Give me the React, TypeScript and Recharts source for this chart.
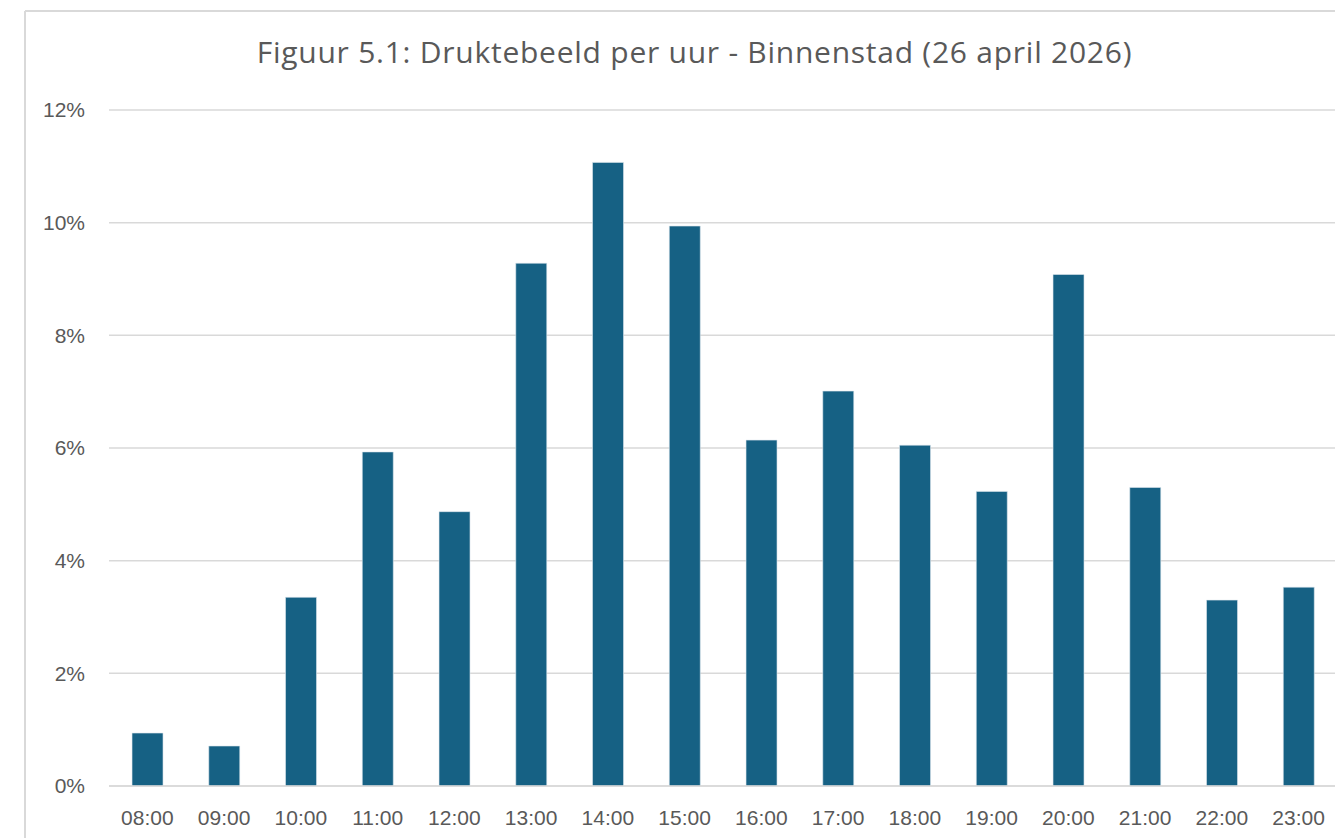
import React from 'react';
import { BarChart, Bar, XAxis, YAxis, CartesianGrid } from 'recharts';

const hours = ['08:00', '09:00', '10:00', '11:00', '12:00', '13:00', '14:00', '15:00', '16:00', '17:00', '18:00', '19:00', '20:00', '21:00', '22:00', '23:00'];
const shares = [0.94, 0.71, 3.35, 5.93, 4.87, 9.28, 11.07, 9.94, 6.14, 7.01, 6.05, 5.23, 9.08, 5.3, 3.3, 3.53];
const yTicks = [0, 2, 4, 6, 8, 10, 12];
const title = 'Figuur 5.1: Druktebeeld per uur - Binnenstad (26 april 2026)';

const data = hours.map((h, i) => ({ hour: h, share: shares[i] }));

export default function App() {
  return (
    <div style={{ position: 'fixed', left: 0, top: 0, width: 1335, height: 838, overflow: 'hidden', background: '#fff' }}>
      <div style={{ position: 'absolute', left: 0, top: 0, width: 1335, height: 838, overflow: 'hidden' }}>
        <BarChart width={1400} height={838} data={data} margin={{ top: 110, right: 63, left: 0, bottom: 22 }} barCategoryGap="30%">
          <CartesianGrid vertical={false} stroke="#d9d9d9" strokeWidth={1.5} />
          <XAxis dataKey="hour" height={30} tickLine={false} tickSize={0} tickMargin={24} axisLine={{ stroke: '#d9d9d9', strokeWidth: 1.5 }} tick={{ fill: '#595959', fontSize: 21, fontFamily: "'Liberation Sans', Arial, sans-serif" }} interval={0} />
          <YAxis width={109} domain={[0, 12]} ticks={yTicks} tickFormatter={(v: number) => `${v}%`} tickLine={false} tickSize={0} tickMargin={24} axisLine={false} tick={{ fill: '#595959', fontSize: 21, fontFamily: "'Liberation Sans', Arial, sans-serif" }} />
          <Bar dataKey="share" fill="#166184" stroke="#dfe8ee" strokeWidth={0.6} isAnimationActive={false} />
        </BarChart>
      </div>
      <svg style={{ position: 'absolute', left: 0, top: 0, pointerEvents: 'none' }} width={1335} height={838}>
        <line x1={25} y1={11} x2={1335} y2={11} stroke="#d9d9d9" strokeWidth={2} />
        <line x1={25} y1={11} x2={25} y2={838} stroke="#d9d9d9" strokeWidth={2} />
        <text x={694.5} y={63} textAnchor="middle" fontFamily="'Open Sans', Lato, sans-serif" fontSize={30} letterSpacing={0.75} fill="#595959">{title}</text>
      </svg>
    </div>
  );
}
